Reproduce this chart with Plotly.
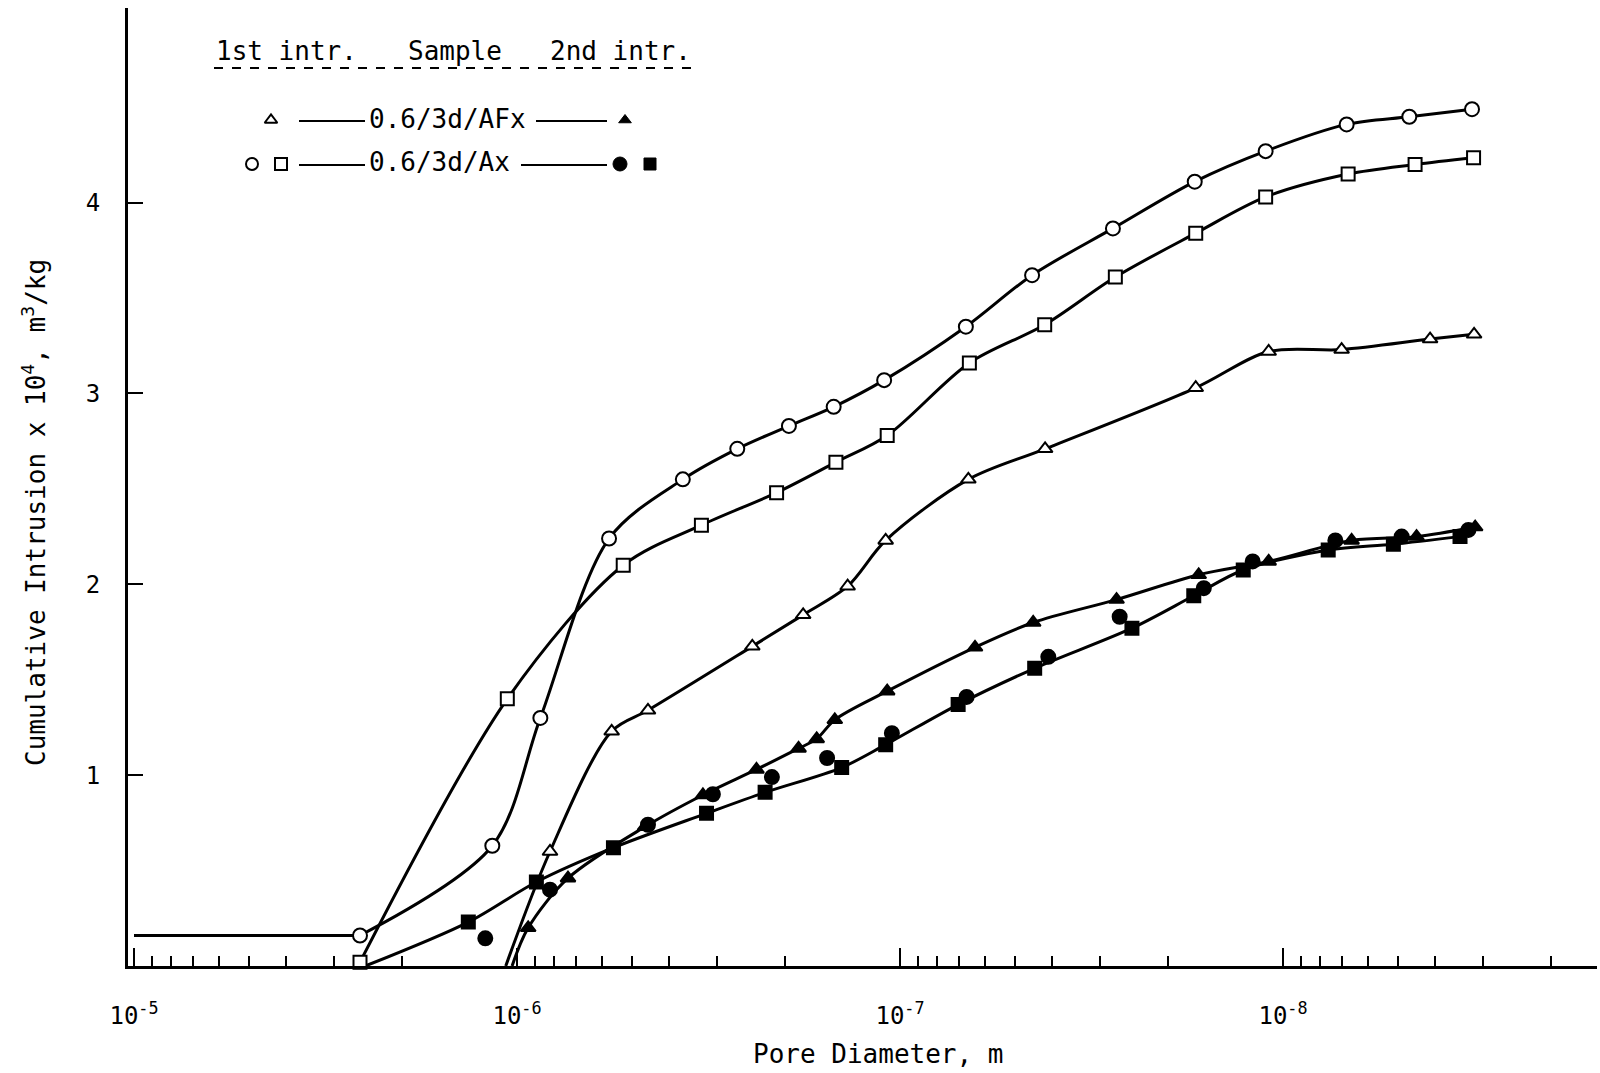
import plotly.graph_objects as go

# ---------------- data (pore diameter in m, cumulative intrusion x 1e4 m^3/kg) ----------------
# 1st intrusion, 0.6/3d/Ax  (open circles)
open_circ_d = [2.57e-6, 1.16e-6, 8.69e-7, 5.75e-7, 3.69e-7, 2.66e-7, 1.95e-7, 1.49e-7, 1.10e-7,
               6.73e-8, 4.52e-8, 2.78e-8, 1.70e-8, 1.11e-8, 6.82e-9, 4.68e-9, 3.21e-9]
open_circ_v = [0.16, 0.63, 1.30, 2.24, 2.55, 2.71, 2.83, 2.93, 3.07,
               3.35, 3.62, 3.865, 4.11, 4.27, 4.41, 4.45, 4.49]
open_circ_start = (1e-5, 0.16)

# 1st intrusion, 0.6/3d/Ax  (open squares)
open_sq_d = [2.57e-6, 1.06e-6, 5.28e-7, 3.30e-7, 2.10e-7, 1.47e-7, 1.08e-7, 6.59e-8,
             4.19e-8, 2.74e-8, 1.69e-8, 1.11e-8, 6.76e-9, 4.52e-9, 3.18e-9]
open_sq_v = [0.02, 1.40, 2.10, 2.31, 2.48, 2.64, 2.78, 3.16,
             3.36, 3.61, 3.84, 4.03, 4.15, 4.20, 4.235]

# 1st intrusion, 0.6/3d/AFx (open triangles)
open_tri_d = [8.2e-7, 5.66e-7, 4.55e-7, 2.43e-7, 1.79e-7, 1.37e-7, 1.09e-7, 6.63e-8,
              4.18e-8, 1.69e-8, 1.09e-8, 7.03e-9, 4.13e-9, 3.17e-9]
open_tri_v = [0.60, 1.23, 1.34, 1.675, 1.84, 1.99, 2.23, 2.55,
              2.71, 3.03, 3.22, 3.23, 3.285, 3.31]
open_tri_start = (1.07e-6, 0.0)

# 2nd intrusion, 0.6/3d/AFx (filled triangles)
fill_tri_d = [9.35e-7, 7.36e-7, 4.63e-7, 3.27e-7, 2.37e-7, 1.84e-7, 1.65e-7, 1.48e-7, 1.08e-7,
              6.37e-8, 4.49e-8, 2.72e-8, 1.66e-8, 1.09e-8, 6.62e-9, 4.48e-9, 3.15e-9]
fill_tri_v = [0.20, 0.46, 0.73, 0.896, 1.03, 1.14, 1.19, 1.29, 1.44,
              1.67, 1.80, 1.92, 2.05, 2.12, 2.23, 2.25, 2.30]
fill_tri_start = (1.03e-6, 0.0)

# 2nd intrusion, 0.6/3d/Ax (filled circles)
fill_circ_d = [1.21e-6, 8.2e-7, 4.55e-7, 3.08e-7, 2.16e-7, 1.55e-7, 1.05e-7, 6.7e-8,
               4.1e-8, 2.67e-8, 1.61e-8, 1.20e-8, 7.3e-9, 4.9e-9, 3.28e-9]
fill_circ_v = [0.145, 0.40, 0.74, 0.90, 0.99, 1.09, 1.22, 1.41,
               1.62, 1.83, 1.98, 2.12, 2.23, 2.25, 2.285]

# 2nd intrusion, 0.6/3d/Ax (filled squares)
fill_sq_d = [1.34e-6, 8.9e-7, 5.6e-7, 3.2e-7, 2.25e-7, 1.42e-7, 1.09e-7, 7.05e-8,
             4.45e-8, 2.48e-8, 1.71e-8, 1.27e-8, 7.62e-9, 5.15e-9, 3.45e-9]
fill_sq_v = [0.23, 0.44, 0.62, 0.80, 0.91, 1.04, 1.16, 1.37,
             1.56, 1.77, 1.94, 2.075, 2.18, 2.21, 2.25]
fill_sq_start = (2.49e-6, 0.0)

decades = [1e-5, 1e-6, 1e-7, 1e-8]
decade_labels = ["10<sup>-5</sup>", "10<sup>-6</sup>", "10<sup>-7</sup>", "10<sup>-8</sup>"]
minor_mult = [2, 3, 4, 5, 6, 7, 8, 9]
y_ticks = [1, 2, 3, 4]

FONT = "DejaVu Sans Mono"
BLACK = "black"

fig = go.Figure()


def curve(d, v, start=None, shape="spline"):
    xs = list(d)
    ys = list(v)
    if start is not None:
        xs = [start[0]] + xs
        ys = [start[1]] + ys
    fig.add_trace(go.Scatter(x=xs, y=ys, mode="lines",
                             line=dict(color=BLACK, width=3, shape=shape, smoothing=0.9),
                             hoverinfo="skip", showlegend=False, cliponaxis=False))


def markers(d, v, symbol, filled, size=14):
    fig.add_trace(go.Scatter(x=d, y=v, mode="markers", showlegend=False, cliponaxis=False,
                             marker=dict(symbol=symbol, size=size,
                                         color=BLACK if filled else "white",
                                         line=dict(color=BLACK, width=2))))


# flat tail of the open-circle curve, then the smooth curves
curve(open_circ_d[:1], open_circ_v[:1], open_circ_start, shape="linear")
curve(open_circ_d, open_circ_v)
curve(open_sq_d, open_sq_v)
curve(open_tri_d, open_tri_v, open_tri_start)
curve(fill_tri_d, fill_tri_v, fill_tri_start)
curve(fill_sq_d, fill_sq_v, fill_sq_start)

markers(fill_sq_d, fill_sq_v, "square", True, 13)
markers(fill_circ_d, fill_circ_v, "circle", True, 14)
markers(fill_tri_d, fill_tri_v, "triangle-up", True, 13)
markers(open_circ_d, open_circ_v, "circle", False, 14)
markers(open_sq_d, open_sq_v, "square", False, 13)
markers(open_tri_d, open_tri_v, "triangle-up", False, 13)

# ---------------- legend block (drawn in pixel-like overlay axes) ----------------
L, R, T, B = 128, 1597, 8, 966


def legend_marker(x, y, symbol, filled, size):
    fig.add_trace(go.Scatter(x=[x], y=[y], mode="markers", xaxis="x2", yaxis="y2", showlegend=False,
                             hoverinfo="skip",
                             marker=dict(symbol=symbol, size=size, color=BLACK if filled else "white",
                                         line=dict(color=BLACK, width=2 if not filled else 1))))


legend_marker(271, 120, "triangle-up", False, 11)
legend_marker(625, 120, "triangle-up", True, 11)
legend_marker(252, 164, "circle", False, 12)
legend_marker(281, 164, "square", False, 12)
legend_marker(620, 164, "circle", True, 14)
legend_marker(650, 164, "square", True, 12)

shapes = [
    dict(type="line", xref="x2", yref="y2", x0=214, x1=694, y0=68, y1=68,
         line=dict(color=BLACK, width=2, dash="dash")),
    dict(type="line", xref="x2", yref="y2", x0=299, x1=365, y0=121, y1=121, line=dict(color=BLACK, width=2)),
    dict(type="line", xref="x2", yref="y2", x0=536, x1=607, y0=121, y1=121, line=dict(color=BLACK, width=2)),
    dict(type="line", xref="x2", yref="y2", x0=299, x1=365, y0=165, y1=165, line=dict(color=BLACK, width=2)),
    dict(type="line", xref="x2", yref="y2", x0=521, x1=607, y0=165, y1=165, line=dict(color=BLACK, width=2)),
]

annotations = [
    dict(text="1st intr.", x=214, y=51, xref="x2", yref="y2", xanchor="left", yanchor="middle",
         showarrow=False, font=dict(family=FONT, size=26, color=BLACK)),
    dict(text="Sample", x=406, y=51, xref="x2", yref="y2", xanchor="left", yanchor="middle",
         showarrow=False, font=dict(family=FONT, size=26, color=BLACK)),
    dict(text="2nd intr.", x=548, y=51, xref="x2", yref="y2", xanchor="left", yanchor="middle",
         showarrow=False, font=dict(family=FONT, size=26, color=BLACK)),
    dict(text="0.6/3d/AFx", x=367, y=119, xref="x2", yref="y2", xanchor="left", yanchor="middle",
         showarrow=False, font=dict(family=FONT, size=26, color=BLACK)),
    dict(text="0.6/3d/Ax", x=367, y=162, xref="x2", yref="y2", xanchor="left", yanchor="middle",
         showarrow=False, font=dict(family=FONT, size=26, color=BLACK)),
    # axis titles
    dict(text="Pore Diameter, m", x=(878 - L) / (R - L), y=-(1054 - B) / (B - T), xref="paper", yref="paper",
         xanchor="center", yanchor="middle", showarrow=False, font=dict(family=FONT, size=26, color=BLACK)),
    dict(text="Cumulative Intrusion x 10<sup>4</sup>, m<sup>3</sup>/kg", x=(34 - L) / (R - L),
         y=(B - 513) / (B - T), xref="paper", yref="paper", textangle=-90,
         xanchor="center", yanchor="middle", showarrow=False, font=dict(family=FONT, size=26, color=BLACK)),
]

minor_vals = [m * d for d in [1e-6, 1e-7, 1e-8, 1e-9] for m in minor_mult]
minor_vals = [v for v in minor_vals if 1.5e-9 < v < 1e-5]

# x position of 1e-5 sits at pixel 134 while the y axis line is at 128
x_left = -5 + (134 - L) / 383.0
x_right = -5 - (R - 134) / 383.0

fig.update_layout(
    width=1600, height=1073,
    margin=dict(l=L, r=1600 - R, t=T, b=1073 - B),
    paper_bgcolor="white", plot_bgcolor="white",
    font=dict(family=FONT, color=BLACK),
    shapes=shapes, annotations=annotations,
    xaxis=dict(type="log", range=[x_left, x_right], showline=True, linecolor=BLACK, linewidth=3,
               showgrid=False, zeroline=False, ticks="inside", ticklen=18, tickwidth=2, tickcolor=BLACK,
               tickvals=decades, ticktext=decade_labels, tickfont=dict(family=FONT, size=24, color=BLACK),
               ticklabelstandoff=26,
               minor=dict(tickvals=minor_vals, ticks="inside", ticklen=10, tickwidth=2,
                          tickcolor=BLACK, showgrid=False)),
    yaxis=dict(range=[0, 5.02], showline=True, linecolor=BLACK, linewidth=3, showgrid=False,
               zeroline=False, ticks="inside", ticklen=15, tickwidth=2, tickcolor=BLACK,
               tickvals=y_ticks, ticktext=[str(t) for t in y_ticks],
               tickfont=dict(family=FONT, size=24, color=BLACK), ticklabelstandoff=20),
    xaxis2=dict(overlaying="x", range=[L, R], visible=False, anchor="y2"),
    yaxis2=dict(overlaying="y", range=[B, T], visible=False, anchor="x2"),
)

fig.write_html("out.html", config={"displayModeBar": False},
               post_script="document.body.style.margin='0';document.body.style.padding='0';"
                           "document.body.style.overflow='hidden';")
